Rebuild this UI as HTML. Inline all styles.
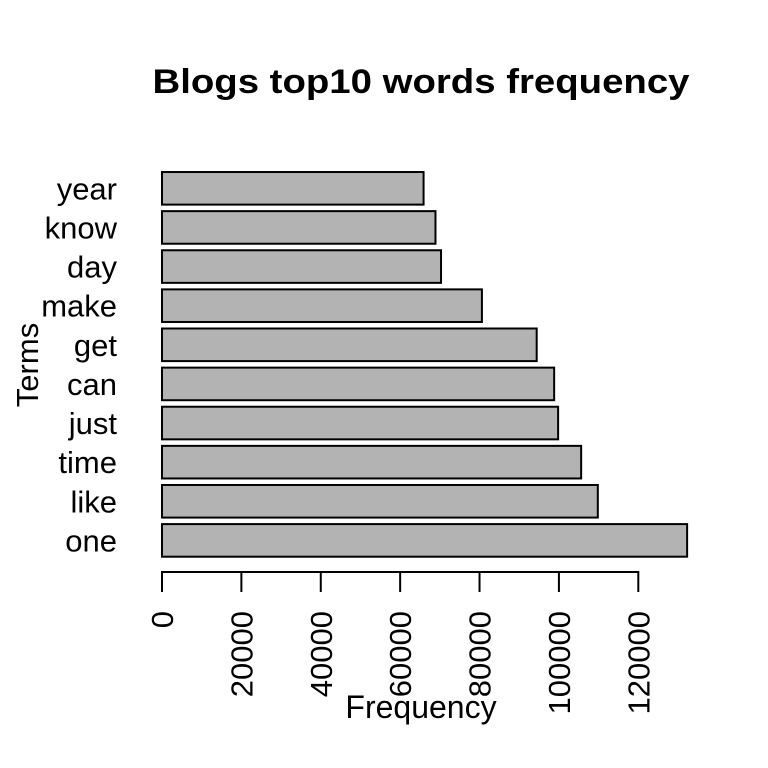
<!DOCTYPE html>
<html><head><meta charset="utf-8"><style>html,body{margin:0;padding:0;background:#fff}svg{display:block}text{font-family:"Liberation Sans",Arial,sans-serif;fill:#000}</style></head>
<body>
<svg id="chart" width="768" height="768" viewBox="0 0 768 768" xmlns="http://www.w3.org/2000/svg">
<text x="421" y="93" text-anchor="middle" font-size="34" font-weight="bold" textLength="537" lengthAdjust="spacingAndGlyphs">Blogs top10 words frequency</text>
<text x="421" y="718" text-anchor="middle" font-size="32">Frequency</text>
<text transform="translate(38,365) rotate(-90)" text-anchor="middle" font-size="31">Terms</text>
<g id="bars"></g><g id="xaxis"></g><g id="ylabels"></g>
</svg>
<script>
const terms = ["one","like","time","just","can","get","make","day","know","year"];
const freqs = [132300,109800,105600,99800,98800,94400,80600,70300,68900,65900];
const xTicks = [0,20000,40000,60000,80000,100000,120000];
const xTickLabels = ["0","20000","40000","60000","80000","100000","120000"];
const NS="http://www.w3.org/2000/svg";
const x0=162, x1=638.3;
function xs(v){return x0+(v/120000)*(x1-x0);}
const bottom=556.7, pitch=39.12, bh=32.6;
function yc(i){return bottom-bh/2-i*pitch;}
const bars=document.getElementById('bars'), yl=document.getElementById('ylabels'), xa=document.getElementById('xaxis');
terms.forEach((t,i)=>{
  const r=document.createElementNS(NS,'rect');
  
  
  r.setAttribute('x',xs(0));r.setAttribute('y',yc(i)-bh/2);
  r.setAttribute('width',xs(freqs[i])-xs(0));r.setAttribute('height',bh);
  r.setAttribute('fill','#b3b3b3');r.setAttribute('stroke','#000');r.setAttribute('stroke-width','2');
  bars.appendChild(r);
  const tx=document.createElementNS(NS,'text');
  
  
  tx.setAttribute('x',117);tx.setAttribute('y',yc(i)+11);
  tx.setAttribute('text-anchor','end');tx.setAttribute('font-size','31');
  tx.textContent=t;yl.appendChild(tx);
});
const ax=document.createElementNS(NS,'line');


ax.setAttribute('x1',xs(xTicks[0]));ax.setAttribute('x2',xs(xTicks[xTicks.length-1]));
ax.setAttribute('y1',572);ax.setAttribute('y2',572);ax.setAttribute('stroke','#000');ax.setAttribute('stroke-width','2');
xa.appendChild(ax);
xTicks.forEach((v,i)=>{
  const l=document.createElementNS(NS,'line');
  
  
  l.setAttribute('x1',xs(v));l.setAttribute('x2',xs(v));l.setAttribute('y1',571);l.setAttribute('y2',592);
  l.setAttribute('stroke','#000');l.setAttribute('stroke-width','2');xa.appendChild(l);
  const t=document.createElementNS(NS,'text');
  
  
  t.setAttribute('transform','translate('+(xs(v)+11)+',611) rotate(-90)');
  t.setAttribute('text-anchor','end');t.setAttribute('font-size','31');
  t.textContent=xTickLabels[i];xa.appendChild(t);
});
</script>
</body></html>
